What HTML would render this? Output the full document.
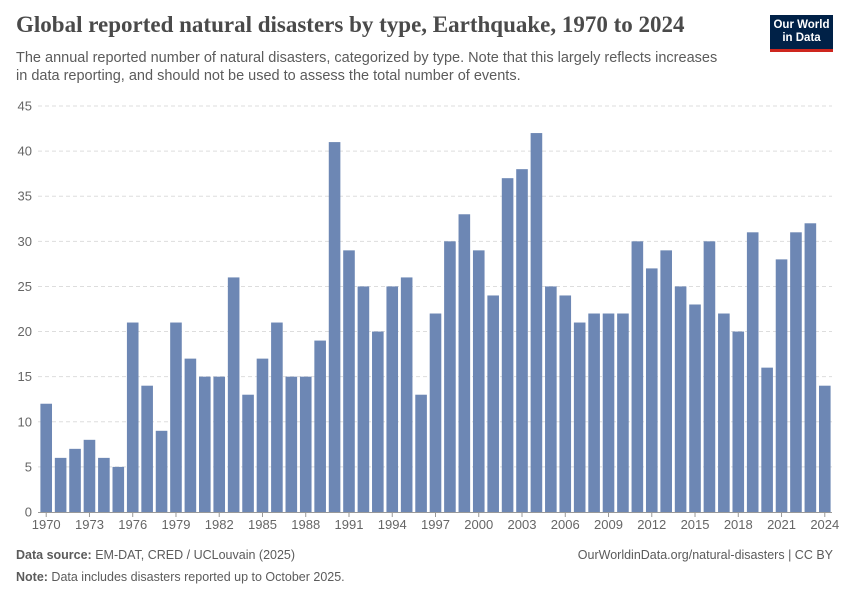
<!DOCTYPE html>
<html><head><meta charset="utf-8"><style>
body{margin:0;background:#fff;width:850px;height:600px;overflow:hidden;font-family:"Liberation Sans",sans-serif;position:relative}
.t{position:absolute;left:16px;top:12px;font-family:"Liberation Serif",serif;font-size:23px;font-weight:bold;color:#4a4a4a}
.s{position:absolute;left:16px;top:49px;font-size:14.5px;line-height:18px;color:#5b5b5b;width:745px}
.logo{position:absolute;left:770px;top:15px;width:63px;height:37px;background:#002147;border-bottom:3px solid #ce261e;color:#fff;font-size:11.5px;font-weight:bold;text-align:center;line-height:13px;padding-top:4px;box-sizing:border-box}
.f{position:absolute;font-size:12.5px;color:#5b5b5b}
</style></head><body>
<div class="t">Global reported natural disasters by type, Earthquake, 1970 to 2024</div>
<div class="s">The annual reported number of natural disasters, categorized by type. Note that this largely reflects increases<br>in data reporting, and should not be used to assess the total number of events.</div>
<div class="logo">Our World<br>in Data</div>
<svg id="c" width="850" height="600" style="position:absolute;left:0;top:0"></svg>
<div class="f" style="left:16px;top:548px"><b>Data source:</b> EM-DAT, CRED / UCLouvain (2025)</div>
<div class="f" style="right:17px;top:548px">OurWorldinData.org/natural-disasters | CC BY</div>
<div class="f" style="left:16px;top:570px"><b>Note:</b> Data includes disasters reported up to October 2025.</div>
<script>
const years=[];for(let y=1970;y<=2024;y++)years.push(y);
const values=[12,6,7,8,6,5,21,14,9,21,17,15,15,26,13,17,21,15,15,19,41,29,25,20,25,26,13,22,30,33,29,24,37,38,42,25,24,21,22,22,22,30,27,29,25,23,30,22,20,31,16,28,31,32,14];
const yTicks=[0,5,10,15,20,25,30,35,40,45];
const xTickYears=[1970,1973,1976,1979,1982,1985,1988,1991,1994,1997,2000,2003,2006,2009,2012,2015,2018,2021,2024];
const svg=document.getElementById('c');const NS='http://www.w3.org/2000/svg';
const y0=512,y1=106,yMax=45,xL=39,xR=832;
const ys=v=>y0-(v/yMax)*(y0-y1);
const step=(xR-xL)/years.length;
const xs=i=>xL+step*i+step/2;
function mk(t,a){const e=document.createElementNS(NS,t);for(const k in a)e.setAttribute(k,a[k]);svg.appendChild(e);return e;}
yTicks.forEach(v=>{
 if(v>0){const l=mk('line',{x1:38,x2:xR,y1:ys(v),y2:ys(v),stroke:'#ddd','stroke-dasharray':'4,3'});
 
 }
 const t=mk('text',{x:32,y:ys(v)+4.5,'text-anchor':'end','font-size':13,fill:'#666'});t.textContent=v;
 
 
});
values.forEach((v,i)=>{
 const r=mk('rect',{x:xs(i)-5.8,y:ys(v),width:11.6,height:y0-ys(v),fill:'#6d87b4'});
 
 
});
const ax=mk('line',{x1:38,x2:xR,y1:y0+0.5,y2:y0+0.5,stroke:'#999'});


xTickYears.forEach(yr=>{
 const i=years.indexOf(yr);
 const tk=mk('line',{x1:xs(i),x2:xs(i),y1:y0,y2:y0+5,stroke:'#999'});
 
 
 const t=mk('text',{x:xs(i),y:529,'text-anchor':'middle','font-size':13,fill:'#666'});t.textContent=yr;
 
 
});
</script>
</body></html>
